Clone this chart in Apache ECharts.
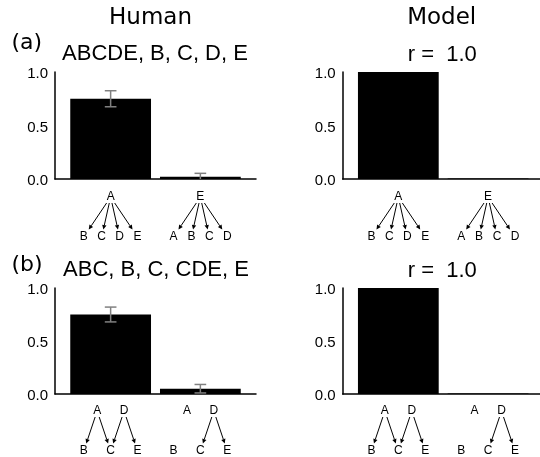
<!DOCTYPE html>
<html><head><meta charset="utf-8">
<script src="https://cdn.jsdelivr.net/npm/echarts@6/dist/echarts.min.js"></script>
<style>html,body{margin:0;padding:0;background:#fff}#c{width:540px;height:457px}</style>
</head><body><div id="c"></div>
<script>
// ---------------- data ----------------
const columnTitles = ['Human', 'Model'];
const panelLetters = ['(a)', '(b)'];
const humanTitles = ['ABCDE, B, C, D, E', 'ABC, B, C, CDE, E'];
const modelTitles = ['r =  1.0', 'r =  1.0'];
const barPositions = [0, 1];
const humanMeanA = [0.75, 0.02];
const humanErrA = [0.075, 0.033];
const humanMeanB = [0.75, 0.05];
const humanErrB = [0.07, 0.04];
const modelA = [1.0, 0.004];
const modelB = [1.0, 0.004];
const yTicks = [0, 0.5, 1.0];
const treesA = [
  { roots: ['A'], leaves: ['B', 'C', 'D', 'E'], edges: [['A','B'], ['A','C'], ['A','D'], ['A','E']] },
  { roots: ['E'], leaves: ['A', 'B', 'C', 'D'], edges: [['E','A'], ['E','B'], ['E','C'], ['E','D']] }
];
const treesB = [
  { roots: ['A', 'D'], leaves: ['B', 'C', 'E'], edges: [['A','B'], ['A','C'], ['D','C'], ['D','E']] },
  { roots: ['A', 'D'], leaves: ['B', 'C', 'E'], edges: [['D','C'], ['D','E']] }
];

// ---------------- layout / style ----------------
const colLeft = [55, 342.7];
const plotWidth = 201;
const rowTop = [72, 288];
const plotHeight = [107, 106];
const treeTop = [197, 411];
const treeHeight = 40;
const xMin = -0.62, xMax = 1.62;
const barHalf = 0.45;
const capHalf = 0.065;
const sans = 'Liberation Sans';
const deja = 'DejaVu Sans';

function layoutTree(tree, center) {
  const spread = (names, half) => names.map((n, i) =>
    names.length === 1 ? center : center - half + 2 * half * i / (names.length - 1));
  const rootX = spread(tree.roots, 0.15), leafX = spread(tree.leaves, 0.3);
  const labels = [], edges = [];
  tree.roots.forEach((n, i) => labels.push({ x: rootX[i], y: 1, name: n }));
  tree.leaves.forEach((n, i) => labels.push({ x: leafX[i], y: 0, name: n }));
  tree.edges.forEach(([f, t]) => {
    const i = tree.roots.indexOf(f), j = tree.leaves.indexOf(t);
    edges.push([rootX[i], 1, leafX[j], 0]);
  });
  return { labels, edges };
}

const grids = [], xAxes = [], yAxes = [], series = [];
function addBarGrid(left, top, height) {
  grids.push({ left, top, width: plotWidth, height, containLabel: false, outerBoundsMode: 'none' });
  const gi = grids.length - 1;
  xAxes.push({ gridIndex: gi, type: 'value', min: xMin, max: xMax,
    axisLine: { show: true, onZero: false, lineStyle: { color: '#000', width: 1.5 } },
    axisTick: { show: false }, axisLabel: { show: false }, splitLine: { show: false } });
  yAxes.push({ gridIndex: gi, type: 'value', min: yTicks[0], max: yTicks[yTicks.length - 1], interval: 0.5,
    axisLine: { show: true, onZero: false, lineStyle: { color: '#000', width: 1.5 } },
    axisTick: { show: false }, splitLine: { show: false },
    axisLabel: { color: '#000', fontFamily: sans, fontSize: 15, margin: 7, lineHeight: 4,
      verticalAlign: 'middle', formatter: v => '\n' + v.toFixed(1) } });
  return gi;
}
function addTreeGrid(left, top) {
  grids.push({ left, top, width: plotWidth, height: treeHeight, containLabel: false, outerBoundsMode: 'none' });
  const gi = grids.length - 1;
  xAxes.push({ gridIndex: gi, type: 'value', min: xMin, max: xMax, show: false });
  yAxes.push({ gridIndex: gi, type: 'value', min: 0, max: 1, show: false });
  return gi;
}
function barSeries(gi, values) {
  series.push({ type: 'custom', xAxisIndex: gi, yAxisIndex: gi, z: 2, clip: false,
    data: barPositions.map((x, i) => [x, values[i]]),
    renderItem: (p, api) => {
      const a = api.coord([api.value(0) - barHalf, api.value(1)]);
      const b = api.coord([api.value(0) + barHalf, 0]);
      return { type: 'rect', shape: { x: a[0], y: a[1], width: b[0] - a[0], height: b[1] - a[1] },
        style: { fill: '#000' } };
    } });
}
function errSeries(gi, means, errs) {
  series.push({ type: 'custom', xAxisIndex: gi, yAxisIndex: gi, z: 3, clip: false,
    data: barPositions.map((x, i) => [x, means[i], errs[i]]),
    renderItem: (p, api) => {
      const x = api.value(0), m = api.value(1), e = api.value(2);
      const lo = Math.max(0, m - e), hi = m + e;
      const pl = api.coord([x, lo]), ph = api.coord([x, hi]);
      const cl = api.coord([x - capHalf, hi])[0], cr = api.coord([x + capHalf, hi])[0];
      const st = { stroke: '#808080', lineWidth: 1.5 };
      const children = [
        { type: 'line', shape: { x1: pl[0], y1: pl[1], x2: ph[0], y2: ph[1] }, style: st },
        { type: 'line', shape: { x1: cl, y1: ph[1], x2: cr, y2: ph[1] }, style: st }
      ];
      if (m - e >= 0) children.push({ type: 'line', shape: { x1: cl, y1: pl[1], x2: cr, y2: pl[1] }, style: st });
      return { type: 'group', children };
    } });
}
function treeSeries(gi, trees) {
  const labels = [], edges = [];
  trees.forEach((t, k) => {
    const l = layoutTree(t, barPositions[k]);
    labels.push(...l.labels); edges.push(...l.edges);
  });
  series.push({ type: 'custom', xAxisIndex: gi, yAxisIndex: gi, clip: false,
    encode: { x: [0, 2], y: [1, 3] },
    data: edges,
    renderItem: (p, api) => {
      const p0 = api.coord([api.value(0), api.value(1)]);
      const p1 = api.coord([api.value(2), api.value(3)]);
      const dx = p1[0] - p0[0], dy = p1[1] - p0[1];
      const s = [p0[0] + dx * 6 / dy, p0[1] + 6];
      const e = [p1[0] - dx * 7.5 / dy, p1[1] - 7.5];
      const len = Math.hypot(e[0] - s[0], e[1] - s[1]);
      const ux = (e[0] - s[0]) / len, uy = (e[1] - s[1]) / len;
      const hl = 4.5, hw = 2.2;
      const b = [e[0] - ux * hl, e[1] - uy * hl];
      return { type: 'group', children: [
        { type: 'line', shape: { x1: s[0], y1: s[1], x2: b[0], y2: b[1] }, style: { stroke: '#000', lineWidth: 1 } },
        { type: 'polygon', shape: { points: [e, [b[0] - uy * hw, b[1] + ux * hw], [b[0] + uy * hw, b[1] - ux * hw]] },
          style: { fill: '#000' } }
      ] };
    } });
  series.push({ type: 'custom', xAxisIndex: gi, yAxisIndex: gi, clip: false,
    data: labels.map(l => [l.x, l.y]),
    renderItem: (p, api) => {
      const pt = api.coord([api.value(0), api.value(1)]);
      return { type: 'text', style: { text: labels[p.dataIndex].name, x: pt[0], y: pt[1],
        align: 'center', verticalAlign: 'middle', font: '12px "' + sans + '"', fill: '#000' } };
    } });
}

const humanMeans = [humanMeanA, humanMeanB], humanErrs = [humanErrA, humanErrB];
const modelVals = [modelA, modelB], treeSets = [treesA, treesB];
for (let r = 0; r < 2; r++) {
  const gh = addBarGrid(colLeft[0], rowTop[r], plotHeight[r]);
  barSeries(gh, humanMeans[r]);
  errSeries(gh, humanMeans[r], humanErrs[r]);
  const gm = addBarGrid(colLeft[1], rowTop[r], plotHeight[r]);
  barSeries(gm, modelVals[r]);
  const th = addTreeGrid(colLeft[0], treeTop[r]);
  treeSeries(th, treeSets[r]);
  const tm = addTreeGrid(colLeft[1], treeTop[r]);
  treeSeries(tm, treeSets[r]);
}

const txt = (text, x, y, font, align) => ({ type: 'text', x, y,
  style: { text, font, fill: '#000', align: align || 'center', verticalAlign: 'middle' } });
const graphic = [
  txt(columnTitles[0], 150.5, 18.5, '23px "' + deja + '"'),
  txt(columnTitles[1], 441.7, 18.5, '23px "' + deja + '"'),
  txt(panelLetters[0], 11.5, 43.3, '22px "' + deja + '"', 'left'),
  txt(panelLetters[1], 11.5, 265, '22px "' + deja + '"', 'left'),
  txt(humanTitles[0], 155, 53.7, '22px "' + sans + '"'),
  txt(humanTitles[1], 156, 269.5, '22px "' + sans + '"'),
  txt(modelTitles[0], 442.3, 54.7, '22px "' + sans + '"'),
  txt(modelTitles[1], 442.3, 270.7, '22px "' + sans + '"')
];

const chart = echarts.init(document.getElementById('c'), null, { renderer: 'canvas' });
chart.setOption({ animation: false, backgroundColor: '#fff',
  grid: grids, xAxis: xAxes, yAxis: yAxes, series, graphic });
</script></body></html>
